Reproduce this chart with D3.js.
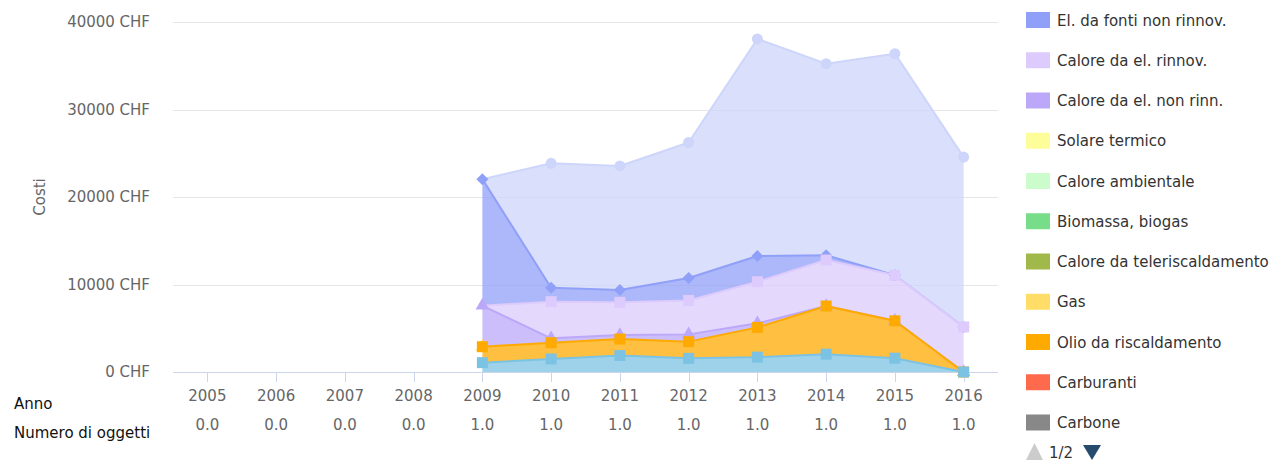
<!DOCTYPE html>
<html>
<head>
<meta charset="utf-8">
<script src="https://cdn.jsdelivr.net/npm/d3@7"></script>
<style>
  html, body { margin: 0; padding: 0; background: #ffffff; }
  svg { display: block; font-family: "DejaVu Sans", "Lucida Grande", Arial, sans-serif; }
</style>
</head>
<body>
<div id="chart"></div>
<script>
// Categorie (anni) e numero di oggetti per anno
const anni = ["2005", "2006", "2007", "2008", "2009", "2010", "2011", "2012", "2013", "2014", "2015", "2016"];
const numeroOggetti = ["0.0", "0.0", "0.0", "0.0", "1.0", "1.0", "1.0", "1.0", "1.0", "1.0", "1.0", "1.0"];
const yTicks = [0, 10000, 20000, 30000, 40000];

// Valori delle serie (CHF), dal basso verso l'alto della pila
const acqua = [null, null, null, null, 1070, 1490, 1880, 1560, 1700, 2040, 1580, 0];
const olio = [null, null, null, null, 1820, 1860, 1890, 1910, 3400, 5500, 4270, 0];
const gas = [null, null, null, null, 0, null, null, null, null, null, null, null];
const caloreElNonRinn = [null, null, null, null, 4690, 500, 460, 830, 460, 0, 0, 0];
const caloreElRinnov = [null, null, null, null, null, 4190, 3730, 3880, 4760, 5260, 5200, 5150];
const elNonRinnov = [null, null, null, null, 14460, 1590, 1410, 2560, 2930, 550, 0, 0];
const elRinnov = [null, null, null, null, null, 14220, 14180, 15490, 24810, 21890, 25330, 19410];

// Voci della legenda (pagina 1 di 2)
const legendaNomi = ["El. da fonti non rinnov.", "Calore da el. rinnov.", "Calore da el. non rinn.", "Solare termico",
    "Calore ambientale", "Biomassa, biogas", "Calore da teleriscaldamento", "Gas", "Olio da riscaldamento",
    "Carburanti", "Carbone"];
const legendaColori = ["#90a0f8", "#dccbfc", "#bba8f8", "#fdfd9a", "#ccfccc", "#77dd88", "#a1b94a",
    "#ffdd66", "#ffaa00", "#ff6a4d", "#888888"];

// Serie disegnate (ordine di impilamento)
const serie = [
    { key: "acqua", values: acqua, color: "#7cc3e3", symbol: "square" },
    { key: "olio", values: olio, color: "#ffaa00", symbol: "square" },
    { key: "gas", values: gas, color: "#ffdd66", symbol: "triangle" },
    { key: "caloreElNonRinn", values: caloreElNonRinn, color: "#bba8f8", symbol: "triangle" },
    { key: "caloreElRinnov", values: caloreElRinnov, color: "#dccbfc", symbol: "square" },
    { key: "elNonRinnov", values: elNonRinnov, color: "#90a0f8", symbol: "diamond" },
    { key: "elRinnov", values: elRinnov, color: "#cdd6fa", symbol: "circle" }
];

const width = 1278, height = 472;
const plot = { left: 173, right: 998, top: 22, bottom: 372 };

const svg = d3.select("#chart").append("svg")
    .attr("width", width)
    .attr("height", height)
    .attr("viewBox", [0, 0, width, height]);

const x = d3.scalePoint().domain(anni).range([plot.left, plot.right]).padding(0.5);
const y = d3.scaleLinear().domain([0, 40000]).range([plot.bottom, plot.top]);

// Griglia
svg.append("g")
    .selectAll("line")
    .data(yTicks.filter(d => d > 0))
    .enter()
    .append("line")
    .attr("x1", plot.left).attr("x2", plot.right)
    .attr("y1", d => Math.round(y(d)) + 0.5).attr("y2", d => Math.round(y(d)) + 0.5)
    .attr("stroke", "#e6e6e6").attr("stroke-width", 1);

// Etichette asse Y
svg.append("g")
    .selectAll("text")
    .data(yTicks)
    .enter()
    .append("text")
    .attr("x", 150)
    .attr("y", d => y(d) + 5)
    .attr("text-anchor", "end")
    .attr("font-size", "15px")
    .attr("fill", "#666666")
    .text(d => `${d} CHF`);

svg.append("text")
    .attr("transform", `translate(45, ${(plot.top + plot.bottom) / 2}) rotate(-90)`)
    .attr("text-anchor", "middle")
    .attr("font-size", "15px")
    .attr("fill", "#666666")
    .text("Costi");

// Tabella per lo stack
const righe = anni.map((a, i) => {
    const r = { anno: a, presente: serie.some(s => s.values[i] !== null) };
    serie.forEach(s => { r[s.key] = s.values[i] === null ? 0 : s.values[i]; });
    return r;
});
const stack = d3.stack().keys(serie.map(s => s.key));
const strati = stack(righe);

const area = d3.area()
    .defined(d => d.data.presente)
    .x(d => x(d.data.anno))
    .y0(d => y(d[0]))
    .y1(d => y(d[1]));

const linea = d3.line()
    .defined(d => d.data.presente)
    .x(d => x(d.data.anno))
    .y(d => y(d[1]));

// Come Highcharts: la serie in cima alla pila viene disegnata per prima
const ordine = d3.range(serie.length).reverse();

const areeG = svg.append("g");
ordine.forEach(k => {
    const s = serie[k];
    if (s.key === "gas") return;
    areeG.append("path")
        .attr("d", area(strati[k]))
        .attr("fill", s.color)
        .attr("fill-opacity", 0.75);
    areeG.append("path")
        .attr("d", linea(strati[k]))
        .attr("fill", "none")
        .attr("stroke", s.color)
        .attr("stroke-width", 2)
        .attr("stroke-linejoin", "round");
});

// Asse X
svg.append("line")
    .attr("x1", plot.left).attr("x2", plot.right)
    .attr("y1", plot.bottom + 0.5).attr("y2", plot.bottom + 0.5)
    .attr("stroke", "#ccd6eb").attr("stroke-width", 1);

svg.append("g")
    .selectAll("line")
    .data(anni)
    .enter()
    .append("line")
    .attr("x1", d => Math.round(x(d)) + 0.5).attr("x2", d => Math.round(x(d)) + 0.5)
    .attr("y1", plot.bottom).attr("y2", plot.bottom + 10)
    .attr("stroke", "#ccd6eb").attr("stroke-width", 1);

// Marcatori
const simboli = {
    circle: d3.symbol().type(d3.symbolCircle).size(Math.PI * 5.5 * 5.5),
    square: d3.symbol().type(d3.symbolSquare).size(121),
    triangle: d3.symbol().type(d3.symbolTriangle).size(80),
    diamond: d3.symbol().type(d3.symbolSquare).size(72)
};
const markerG = svg.append("g");
ordine.forEach(k => {
    const s = serie[k];
    strati[k].forEach((d, i) => {
        if (s.values[i] === null) return;
        markerG.append("path")
            .attr("d", simboli[s.symbol]())
            .attr("transform", `translate(${x(d.data.anno)},${y(d[1])})` + (s.symbol === "diamond" ? " rotate(45)" : ""))
            .attr("fill", s.color);
    });
});

// Etichette asse X su due righe
const etichette = svg.append("g")
    .attr("font-size", "15px")
    .attr("fill", "#666666")
    .attr("text-anchor", "middle");
etichette.selectAll(".anno")
    .data(anni)
    .enter()
    .append("text")
    .attr("class", "anno")
    .attr("x", d => x(d))
    .attr("y", 401)
    .text(d => d);
etichette.selectAll(".numero")
    .data(anni)
    .enter()
    .append("text")
    .attr("class", "numero")
    .attr("x", d => x(d))
    .attr("y", 430)
    .text((d, i) => numeroOggetti[i]);

svg.append("text").attr("x", 14).attr("y", 409)
    .attr("font-size", "15px").attr("fill", "#111111").text("Anno");
svg.append("text").attr("x", 14).attr("y", 438)
    .attr("font-size", "15px").attr("fill", "#111111").text("Numero di oggetti");

// Legenda
const legenda = svg.append("g").attr("transform", "translate(1026, 12)");
const voci = legenda.selectAll("g")
    .data(legendaNomi)
    .enter()
    .append("g")
    .attr("transform", (d, i) => `translate(0, ${i * 40.25})`);
voci.append("rect")
    .attr("width", 24).attr("height", 16)
    .attr("fill", (d, i) => legendaColori[i]);
voci.append("text")
    .attr("x", 31).attr("y", 13.5)
    .attr("font-size", "15px")
    .attr("fill", "#333333")
    .text(d => d);

// Navigazione pagine legenda
svg.append("path").attr("d", "M1026,460L1034.5,443L1043,460Z").attr("fill", "#cccccc");
svg.append("text").attr("x", 1049).attr("y", 458)
    .attr("font-size", "15px").attr("fill", "#333333").text("1/2");
svg.append("path").attr("d", "M1083,445L1101,445L1092,460Z").attr("fill", "#274b6d");
</script>
</body>
</html>
